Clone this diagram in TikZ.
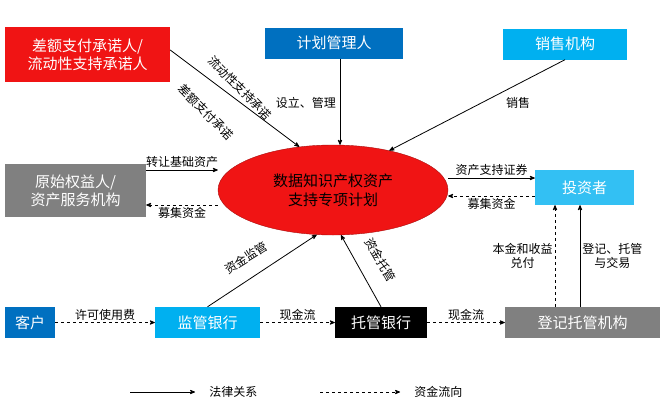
\documentclass[tikz,border=0pt]{standalone}
\usepackage{fontspec}
\setmainfont{Noto Sans CJK SC}
\usetikzlibrary{arrows, positioning, shapes.geometric}
\definecolor{redbox}{RGB}{240,20,20}
\definecolor{bluebox}{RGB}{0,112,192}
\definecolor{cyanbox}{RGB}{0,176,240}
\definecolor{graybox}{RGB}{128,128,128}
\begin{document}
\begin{tikzpicture}[x=1pt, y=-1pt,
    party/.style = {draw = none, text = white, font = \fontsize{15}{18}\selectfont, inner sep = 0pt, align = center, minimum height = 31pt},
    lbl/.style = {font = \fontsize{12}{14}\selectfont, inner sep = 2pt, align = center},
    law/.style = {->, >=stealth', thick},
    cash/.style = {->, >=stealth', thick, dashed}]
  \useasboundingbox (0,0) rectangle (660,418);
  % parties
  \node[party, fill = redbox, minimum width = 165pt, minimum height = 55pt] (guar) at (87.5,54.5) {差额支付承诺人/\\流动性支持承诺人};
  \node[party, fill = bluebox, minimum width = 138pt] (mgr) at (334,43) {计划管理人};
  \node[party, fill = cyanbox, minimum width = 124pt] (sale) at (565,44) {销售机构};
  \node[party, fill = graybox, minimum width = 141pt, minimum height = 53pt] (orig) at (75.5,190.5) {原始权益人/\\资产服务机构};
  \node[ellipse, fill = redbox, draw = redbox!70!black, minimum width = 230pt, minimum height = 90pt, font = \fontsize{15}{19}\selectfont, align = center] (plan) at (333,190) {数据知识产权资产\\支持专项计划};
  \node[party, fill = cyanbox!80!white, minimum width = 99pt, minimum height = 35pt] (inv) at (584.5,187.5) {投资者};
  \node[party, fill = bluebox, minimum width = 50pt] (cust) at (30,322.5) {客户};
  \node[party, fill = cyanbox, minimum width = 105pt] (sup) at (207.5,322.5) {监管银行};
  \node[party, fill = black, minimum width = 92pt] (cust2) at (381,322.5) {托管银行};
  \node[party, fill = graybox, minimum width = 155pt] (reg) at (582.5,322.5) {登记托管机构};
  % legal relations
  \draw[law] (guar.east |- 0,50) -- (plan.128);
  \node[lbl, rotate = -45] (l1) at (240,88) {流动性支持承诺};
  \node[lbl, rotate = -45] (l2) at (206,112) {差额支付承诺};
  \draw[law] (mgr.south) ++(6,0) coordinate (m1) -- (m1 |- plan.north);
  \node[lbl, left] (lm) at (338,103) {设立、管理};
  \draw[law] (sale.south) -- (plan.35);
  \node[lbl] (ls) at (518,103) {销售};
  \draw[law] (orig.east |- 0,170) -- node[lbl, above] {转让基础资产} (plan.west |- 0,170);
  \draw[law] (plan.east |- 0,178) -- node[lbl, above] {资产支持证券} (inv.west |- 0,178);
  \draw[law] (sup.north) -- (plan.250);
  \node[lbl, rotate = 32] (l3) at (246,258) {资金监管};
  \draw[law] (cust2.north) -- (plan.280);
  \node[lbl, rotate = -60] (l4) at (380,260) {资金托管};
  \draw[law] (reg.north -| 580,0) -- node[lbl, right] {登记、托管\\与交易} (inv.south -| 580,0);
  % cash flows
  \draw[cash] (plan.west |- 0,205) -- node[lbl, below] {募集资金} (orig.east |- 0,205);
  \draw[cash] (inv.west |- 0,196) -- node[lbl, below] {募集资金} (plan.east |- 0,196);
  \draw[cash] (cust) -- node[lbl, above] {许可使用费} (sup);
  \draw[cash] (sup) -- node[lbl, above] {现金流} (cust2);
  \draw[cash] (cust2) -- node[lbl, above] {现金流} (reg);
  \draw[cash] (reg.north -| 555,0) -- node[lbl, left] {本金和收益\\兑付} (inv.south -| 555,0);
  % legend
  \coordinate (k1) at (130,392); \coordinate (k2) at (195,392);
  \coordinate (k3) at (320,392); \coordinate (k4) at (400,392);
  \draw[law] (k1) -- (k2) node[lbl, right = 12pt] (klaw) {法律关系};
  \draw[cash] (k3) -- (k4) node[lbl, right = 12pt] (kcash) {资金流向};
\end{tikzpicture}
\end{document}
